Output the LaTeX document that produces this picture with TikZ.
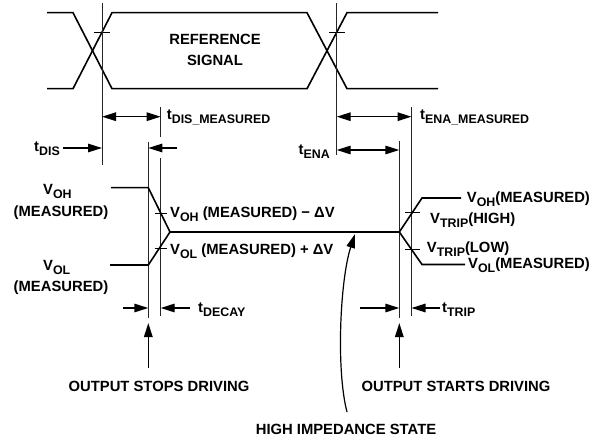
\documentclass[tikz,border=0pt]{standalone}
\usepackage{fontspec}
\setmainfont{Liberation Sans}
\usetikzlibrary{arrows.meta,positioning}
\newcommand{\ai}[1]{\raisebox{-4pt}{\fontsize{12.4}{13}\selectfont #1}}
\tikzset{
  jel/.style={line width=1.6pt},
  seged/.style={line width=0.9pt,black!85},
  jelzo/.style={line width=1pt},
  nyil/.style={line width=1.4pt,-{Triangle[length=14pt,width=8.5pt]}},
  kettos/.style={line width=1.4pt,{Triangle[length=14pt,width=8.5pt]}-{Triangle[length=14pt,width=8.5pt]}},
  felirat/.style={inner sep=0pt,align=center},
}
\begin{document}
\begin{tikzpicture}[x=1pt,y=-1pt,font=\fontsize{14.8}{18}\selectfont\bfseries]
  \useasboundingbox (0,0) rectangle (601,438);
  % referencia jel
  \draw[jel] (47,12.7) -- (73,12.7) -- (112,88.7) -- (307,88.7) -- (347,12.7) -- (438,12.7);
  \draw[jel] (47,88.7) -- (73,88.7) -- (112,12.7) -- (307,12.7) -- (347,88.7) -- (438,88.7);
  \draw[jelzo] (94,33) -- (110,33);
  \draw[jelzo] (329,33) -- (345,33);
  \node[felirat] (ref) at (215,50) {REFERENCE\\[3pt]SIGNAL};
  % segedvonalak
  \coordinate (a1) at (102,3);      \coordinate (a2) at (102,165);
  \coordinate (b1) at (336.7,3);    \coordinate (b2) at (336.7,155);
  \coordinate (c1) at (148.3,142);  \coordinate (c2) at (148.3,318);
  \coordinate (d1) at (160.7,107);  \coordinate (d2) at (160.7,137);
  \coordinate (d3) at (160.7,158);  \coordinate (d4) at (160.7,316);
  \coordinate (e1) at (399.3,141);  \coordinate (e2) at (399.3,318);
  \coordinate (f1) at (411.5,107);  \coordinate (f2) at (411.5,316);
  \draw[seged] (a1) -- (a2);
  \draw[seged] (b1) -- (b2);
  \draw[seged] (c1) -- (c2);
  \draw[seged] (d1) -- (d2);
  \draw[seged] (d3) -- (d4);
  \draw[seged] (e1) -- (e2);
  \draw[seged] (f1) -- (f2);
  % idozitesek
  \coordinate (dm1) at (102,116.7);   \coordinate (dm2) at (160.7,116.7);
  \coordinate (em1) at (336.7,116.7); \coordinate (em2) at (411.5,116.7);
  \draw[kettos] (dm1) -- (dm2);
  \draw[kettos] (em1) -- (em2);
  \node[felirat,right=6pt of dm2,yshift=-1pt] (tdism) {t\ai{DIS\_MEASURED}};
  \node[felirat,right=8.5pt of em2,yshift=-1pt] (tenam) {t\ai{ENA\_MEASURED}};
  \coordinate (ds1) at (63,148);  \coordinate (ds2) at (102,148);
  \coordinate (ds3) at (177,148); \coordinate (ds4) at (148.3,148);
  \draw[nyil] (ds1) -- (ds2);
  \draw[nyil] (ds3) -- (ds4);
  \node[felirat,left=3pt of ds1,yshift=-1pt] (tdis) {t\ai{DIS}};
  \coordinate (en1) at (336.7,150); \coordinate (en2) at (399.3,150);
  \draw[kettos] (en1) -- (en2);
  \node[felirat,left=6.7pt of en1,yshift=-2pt] (tena) {t\ai{ENA}};
  % kimenet
  \draw[jel] (111,187.7) -- (148.3,187.7) -- (170,232) -- (399.3,232);
  \draw[jel] (110,265) -- (148.3,265) -- (170,232);
  \draw[jel] (399.3,232) -- (422,198) -- (461,198);
  \draw[jel] (399.3,232) -- (422,264.5) -- (465,264.5);
  \draw[jelzo] (155,213.5) -- (167,213.5);
  \draw[jelzo] (155,248) -- (167,248);
  \draw[jelzo] (405,212.7) -- (420,212.7);
  \draw[jelzo] (405,249) -- (420,249);
  \node[felirat,anchor=base west] (voh) at (43,194) {V\ai{OH}};
  \node[felirat,anchor=base] (vohm) at (61,216) {(MEASURED)};
  \node[felirat,anchor=base west] (vol) at (43,270) {V\ai{OL}};
  \node[felirat,anchor=base] (volm) at (61,291) {(MEASURED)};
  \node[felirat,anchor=base west] (vohd) at (170,217) {V\ai{OH} (MEASURED) − ΔV};
  \node[felirat,anchor=base west] (vold) at (170,254) {V\ai{OL} (MEASURED) + ΔV};
  \node[felirat,anchor=base west] (vohr) at (466.7,202) {V\ai{OH}(MEASURED)};
  \node[felirat,anchor=base west] (vtrh) at (430,223.5) {V\ai{TRIP}(HIGH)};
  \node[felirat,anchor=base west] (vtrl) at (426.7,252) {V\ai{TRIP}(LOW)};
  \node[felirat,anchor=base west] (volr) at (468,268) {V\ai{OL}(MEASURED)};
  % decay es trip
  \coordinate (k1) at (123,308); \coordinate (k2) at (148.3,308);
  \coordinate (k3) at (190,308); \coordinate (k4) at (160.7,308);
  \draw[nyil] (k1) -- (k2);
  \draw[nyil] (k3) -- (k4);
  \node[felirat,right=8pt of k3,yshift=-2pt] (tdecay) {t\ai{DECAY}};
  \coordinate (m1) at (360,308); \coordinate (m2) at (399.3,308);
  \coordinate (m3) at (440,308); \coordinate (m4) at (411.5,308);
  \draw[nyil] (m1) -- (m2);
  \draw[nyil] (m3) -- (m4);
  \node[felirat,right=2pt of m3,yshift=-2pt] (ttrip) {t\ai{TRIP}};
  % also feliratok
  \coordinate (s1) at (148.3,368); \coordinate (s2) at (148.3,323);
  \coordinate (s3) at (399.3,368); \coordinate (s4) at (399.3,323);
  \draw[nyil] (s1) -- (s2);
  \draw[nyil] (s3) -- (s4);
  \node[felirat,anchor=base] (stops) at (159,391.5) {OUTPUT STOPS DRIVING};
  \node[felirat,anchor=base] (starts) at (456,391.5) {OUTPUT STARTS DRIVING};
  \node[felirat,anchor=base] (hiz) at (346,434) {HIGH IMPEDANCE STATE};
  \coordinate (h1) at (347,412); \coordinate (h2) at (355,234);
  \draw[nyil,line width=1.2pt] (h1) .. controls (336,370) and (340,280) .. (h2);
\end{tikzpicture}
\end{document}
